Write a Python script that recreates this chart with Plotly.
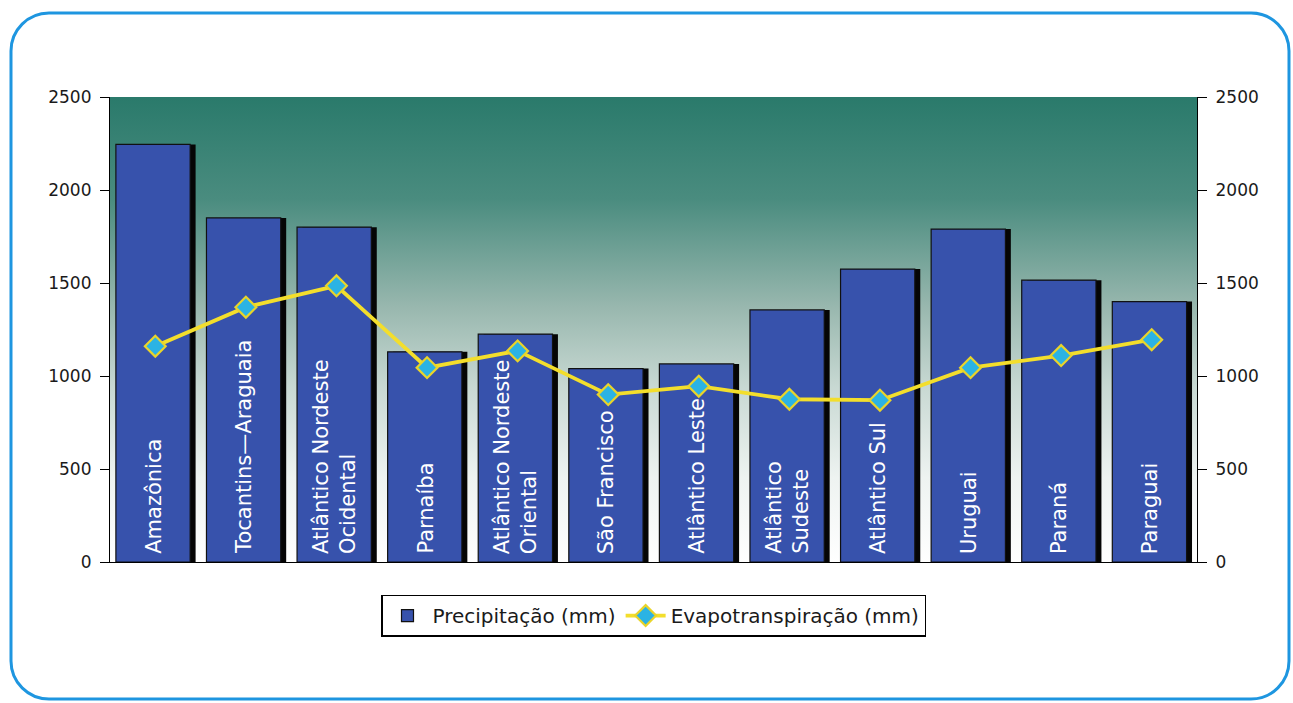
import base64
import plotly.graph_objects as go

# ---------------- data ----------------
categories = ["Amazônica", "Tocantins—Araguaia", "Atlântico Nordeste<br>Ocidental", "Parnaíba",
              "Atlântico Nordeste<br>Oriental", "São Francisco", "Atlântico Leste",
              "Atlântico<br>Sudeste", "Atlântico Sul", "Uruguai", "Paraná", "Paraguai"]
precipitacao = [2245, 1850, 1800, 1130, 1225, 1040, 1065, 1355, 1575, 1790, 1515, 1400]
evapotranspiracao = [1160, 1370, 1485, 1045, 1135, 900, 945, 875, 870, 1045, 1110, 1195]
y_ticks = [0, 500, 1000, 1500, 2000, 2500]

W, H = 1293, 703
ML, MR, MT, MB = 110, 96, 97, 141
PW, PH = W - ML - MR, H - MT - MB
FONT = "DejaVu Sans"

def px2paper(px, py):
    return (px - ML) / PW, (H - MB - py) / PH

fig = go.Figure()

# bar shadow
fig.add_trace(go.Bar(
    x=categories, y=precipitacao, width=0.82, offset=-0.375,
    marker=dict(color="#050505", line=dict(width=0)),
    showlegend=False, hoverinfo="skip"))
# bars
fig.add_trace(go.Bar(
    x=categories, y=precipitacao, width=0.82, offset=-0.435,
    name="Precipitação (mm)",
    marker=dict(color="#3752AC", line=dict(color="#111111", width=1.2))))
# line
fig.add_trace(go.Scatter(
    x=categories, y=evapotranspiracao, mode="lines+markers", yaxis="y2",
    name="Evapotranspiração (mm)",
    line=dict(color="#F3DE2C", width=3.8),
    marker=dict(symbol="diamond", size=16, color="#2BB3E4",
                line=dict(color="#E9D42A", width=2.2))))

# labels inside bars
for c in categories:
    fig.add_annotation(x=c, y=0, xref="x", yref="y", text=c, showarrow=False,
                       textangle=-90, xanchor="center", yanchor="bottom",
                       align="left", yshift=6, xshift=-2,
                       font=dict(family=FONT, size=21, color="white"))

# gradient background for plot area
svg = ('<svg xmlns="http://www.w3.org/2000/svg" width="100" height="100" preserveAspectRatio="none">'
       '<defs><linearGradient id="g" x1="0" y1="0" x2="0" y2="1">'
       '<stop offset="0" stop-color="#2A7A6B"/>'
       '<stop offset="0.22" stop-color="#4A8C7F"/>'
       '<stop offset="0.45" stop-color="#98B7AE"/>'
       '<stop offset="0.62" stop-color="#C7D8D2"/>'
       '<stop offset="0.82" stop-color="#EEF3F1"/>'
       '<stop offset="1" stop-color="#FFFFFF"/>'
       '</linearGradient></defs><rect x="0" y="0" width="100" height="100" fill="url(#g)"/></svg>')
src = "data:image/svg+xml;base64," + base64.b64encode(svg.encode()).decode()
fig.add_layout_image(dict(source=src, xref="paper", yref="paper", x=0, y=1,
                          sizex=1, sizey=1, xanchor="left", yanchor="top",
                          sizing="stretch", layer="below"))

# rounded outer frame
L, R, T, B, r = 11, 1289, 13, 699, 38
k = 0.5523 * r
def P(x, y):
    a, b = px2paper(x, y)
    return f"{a:.5f},{b:.5f}"
path = (f"M{P(L+r,T)} L{P(R-r,T)} C{P(R-r+k,T)} {P(R,T+r-k)} {P(R,T+r)} "
        f"L{P(R,B-r)} C{P(R,B-r+k)} {P(R-r+k,B)} {P(R-r,B)} "
        f"L{P(L+r,B)} C{P(L+r-k,B)} {P(L,B-r+k)} {P(L,B-r)} "
        f"L{P(L,T+r)} C{P(L,T+r-k)} {P(L+r-k,T)} {P(L+r,T)} Z")
fig.add_shape(type="path", path=path, xref="paper", yref="paper",
              line=dict(color="#1E96E0", width=3), layer="below")

axis_common = dict(range=[0, 2500], tickvals=y_ticks, showgrid=False, zeroline=False,
                   showline=True, linecolor="black", linewidth=1.2,
                   ticks="outside", ticklen=9, tickcolor="black", tickwidth=1.2,
                   ticklabelstandoff=5,
                   tickfont=dict(family=FONT, size=17, color="#1a1a1a"), fixedrange=True)

fig.update_layout(
    width=W, height=H,
    margin=dict(l=ML, r=MR, t=MT, b=MB),
    paper_bgcolor="white", plot_bgcolor="rgba(0,0,0,0)",
    barmode="overlay", bargap=0.1,
    xaxis=dict(showticklabels=False, ticks="", showline=True, linecolor="black",
               linewidth=1.2, showgrid=False, range=[-0.5, 11.5]),
    yaxis=dict(side="left", **axis_common),
    yaxis2=dict(side="right", overlaying="y", **axis_common),
    legend=dict(orientation="h", x=0.5, xanchor="center", y=-0.07, yanchor="top",
                bgcolor="white", bordercolor="black", borderwidth=1.5,
                font=dict(family=FONT, size=20, color="#1a1a1a"),
                itemwidth=40, traceorder="normal"),
    showlegend=True,
)

fig.write_html("out.html")
